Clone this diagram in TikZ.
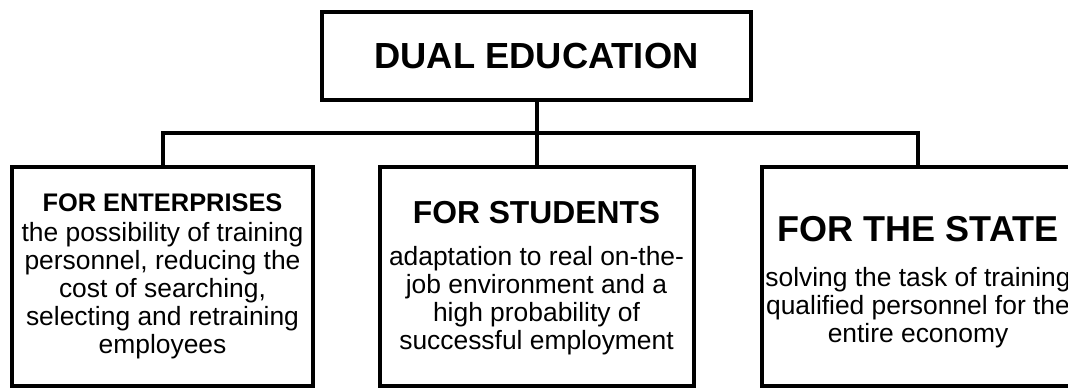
\documentclass[tikz,border=0pt]{standalone}
\usepackage{fontspec}
\setmainfont{Liberation Sans}
\tikzset{
  boite/.style={draw, rectangle, line width=4pt, inner sep=0pt, minimum height=219pt},
  corps/.style={align=center, inner sep=0pt, font=\fontsize{26.4}{28}\selectfont},
  liaison/.style={line width=4pt},
}
\begin{document}
\begin{tikzpicture}[x=1pt,y=-1pt]
% cadre de la page
\useasboundingbox (0,0) rectangle (1068,389);
\def\bus{133}

% titre
\node[draw, line width=4pt, minimum width=429pt, minimum height=88pt, inner sep=0pt,
      font=\fontsize{36.3}{40}\selectfont\bfseries] (dual) at (536.5,56) {DUAL EDUCATION};

% les trois cases
\node[boite, minimum width=301pt] (ent) at (162.5,276.5) {};
\node[boite, minimum width=314pt] (etu) at (536.5,276.5) {};
\node[boite, minimum width=312pt] (etat) at (918,276.5) {};

\node[corps] (entT) at (162.5,276) {{\fontsize{25.4}{28}\selectfont\bfseries FOR ENTERPRISES}\\[2pt]
  the possibility of training\\ personnel, reducing the\\ cost of searching,\\
  selecting and retraining\\ employees};
\node[corps] (etuT) at (536.5,278.6) {{\fontsize{31.8}{34}\selectfont\bfseries FOR STUDENTS}\\[14pt]
  adaptation to real on-the-\\ job environment and a\\ high probability of\\
  successful employment};
\node[corps] (etatT) at (918,282.6) {{\fontsize{36}{38}\selectfont\bfseries FOR THE STATE}\\[17pt]
  solving the task of training\\ qualified personnel for the\\ entire economy};

% liaisons
\coordinate (b) at (536.5,\bus);
\draw[liaison] (dual.south) -- (b);
\draw[liaison] (ent.north) |- (b) -| (etat.north);
\draw[liaison] (b) -- (etu.north);
\end{tikzpicture}
\end{document}
